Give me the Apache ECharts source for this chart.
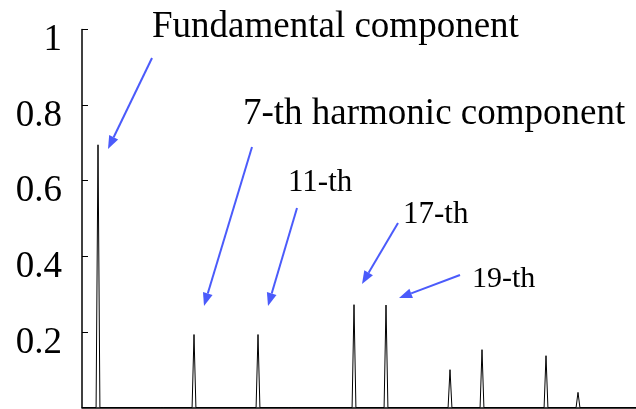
<!DOCTYPE html>
<html>
<head>
<meta charset="utf-8">
<script src="https://cdn.jsdelivr.net/npm/echarts@6/dist/echarts.min.js"></script>
<style>
  html, body { margin: 0; padding: 0; background: #fff; }
  #chart { width: 636px; height: 409px; }
</style>
</head>
<body>
<div id="chart"></div>
<script>
// Harmonic order and relative amplitude of each spectral line
const harmonics = [1, 5, 7, 11, 13, 17, 19, 23, 25, 29, 31];
const amplitudes = [0.695, 0.005, 0.193, 0.193, 0.005, 0.272, 0.271, 0.10, 0.153, 0.137, 0.04];
const yTicks = [0, 0.2, 0.4, 0.6, 0.8, 1];

// Half-width of each spectral spike, in harmonic orders
const halfWidth = 0.12;
const xMax = 34.625;

// Build the spectrum trace: a thin triangular spike at every harmonic
const trace = [[0, 0]];
harmonics.forEach((n, i) => {
  trace.push([n - halfWidth, 0]);
  trace.push([n, amplitudes[i]]);
  trace.push([n + halfWidth, 0]);
});
trace.push([xMax, 0]);

const serif = 'Liberation Serif';
const arrowColor = '#4b5bfb';

// Annotation arrow: shaft plus a filled head at the target end
function arrow(x1, y1, x2, y2) {
  const ang = Math.atan2(y2 - y1, x2 - x1);
  const len = 13, wid = 5;
  const bx = x2 - len * Math.cos(ang), by = y2 - len * Math.sin(ang);
  const px = -Math.sin(ang) * wid, py = Math.cos(ang) * wid;
  return [
    { type: 'line', shape: { x1: x1, y1: y1, x2: bx, y2: by },
      style: { stroke: arrowColor, lineWidth: 2 }, silent: true },
    { type: 'polygon', shape: { points: [[x2, y2], [bx + px, by + py], [bx - px, by - py]] },
      style: { fill: arrowColor }, silent: true }
  ];
}

function label(text, x, y, size) {
  return { type: 'text', x: x, y: y,
    style: { text: text, font: size + 'px "' + serif + '"', fill: '#000',
             textVerticalAlign: 'bottom', verticalAlign: 'bottom' }, silent: true };
}

const chart = echarts.init(document.getElementById('chart'));
chart.setOption({
  animation: false,
  backgroundColor: '#fff',
  grid: { left: 82, right: 0, top: 29.5, bottom: 1.5, containLabel: false },
  xAxis: {
    type: 'value', min: 0, max: xMax,
    axisLine: { show: true, lineStyle: { color: '#000', width: 1.5 } },
    axisTick: { show: false }, axisLabel: { show: false }, splitLine: { show: false }
  },
  yAxis: {
    type: 'value', min: 0, max: 1, interval: 0.2,
    axisLine: { show: true, lineStyle: { color: '#000', width: 1.5 } },
    axisTick: { show: true, inside: true, length: 6, lineStyle: { color: '#000' } },
    axisLabel: {
      margin: 20, color: '#000', fontFamily: serif, fontSize: 37,
      verticalAlign: 'top', lineHeight: 22,
      formatter: v => (v === 0 ? '' : String(+v.toFixed(1)))
    },
    splitLine: { show: false }
  },
  series: [{
    type: 'line', data: trace, showSymbol: false, symbol: 'none',
    lineStyle: { color: '#000', width: 1 }, silent: true
  }],
  graphic: [
    label('Fundamental component', 152, 46, 37),
    label('7-th harmonic component', 243, 133, 37),
    label('11-th', 288, 198, 31),
    label('17-th', 403, 230, 31),
    label('19-th', 472, 294, 30),
    ...arrow(152, 58, 108, 149),
    ...arrow(252, 147, 204, 306),
    ...arrow(297, 208, 268, 306),
    ...arrow(398, 223, 362, 284),
    ...arrow(460, 275, 399, 298)
  ]
});
</script>
</body>
</html>
